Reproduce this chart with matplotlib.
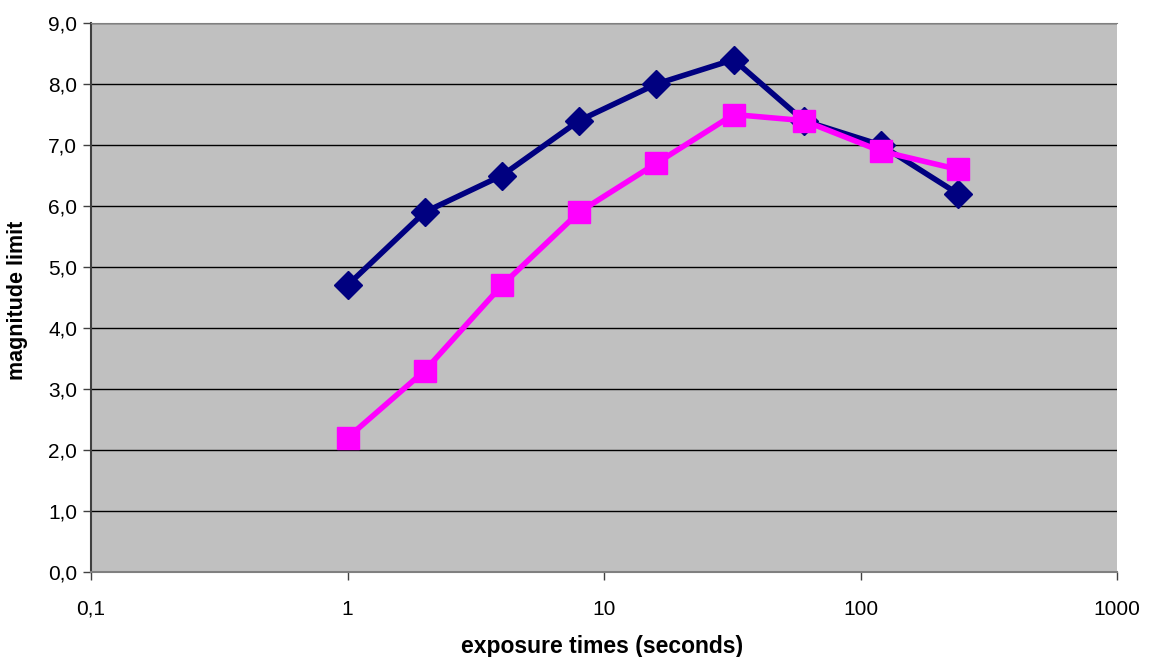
import matplotlib
matplotlib.use("Agg")
import matplotlib.pyplot as plt
from matplotlib.ticker import FixedLocator, FuncFormatter, NullLocator

plt.rcParams['font.family'] = ['Liberation Sans', 'DejaVu Sans']

exposure = [1, 2, 4, 8, 16, 32, 60, 120, 240]
series_a = [4.7, 5.9, 6.5, 7.4, 8.0, 8.4, 7.4, 7.0, 6.2]
series_b = [2.2, 3.3, 4.7, 5.9, 6.7, 7.5, 7.4, 6.9, 6.6]
y_ticks = [0, 1, 2, 3, 4, 5, 6, 7, 8, 9]
x_ticks = [0.1, 1, 10, 100, 1000]
x_tick_labels = ['0,1', '1', '10', '100', '1000']

fig = plt.figure(figsize=(11.5, 6.57), dpi=100)
ax = fig.add_axes([91/1150, (657-572)/657, (1117-91)/1150, (572-23)/657])
ax.set_facecolor('#C0C0C0')

ax.plot(exposure, series_a, color='#000080', lw=4, marker='D', ms=14,
        mfc='#000080', mec='#000080', zorder=3)
ax.plot(exposure, series_b, color='#FF00FF', lw=4, marker='s', ms=16.5,
        mfc='#FF00FF', mec='#FF00FF', zorder=4)

ax.set_xscale('log')
ax.set_xlim(0.1, 1000)
ax.set_ylim(0, 9)
ax.xaxis.set_major_locator(FixedLocator(x_ticks))
ax.xaxis.set_minor_locator(NullLocator())
ax.set_xticks(x_ticks)
ax.set_xticklabels(x_tick_labels)
ax.set_yticks(y_ticks)
ax.yaxis.set_major_formatter(FuncFormatter(lambda v, p: f"{v:.1f}".replace('.', ',')))

ax.yaxis.grid(True, color='black', lw=1.0)
ax.set_axisbelow(True)
ax.spines['right'].set_visible(False)
ax.spines['top'].set_color('#808080')
ax.spines['left'].set_color('#404040')
ax.spines['bottom'].set_color('#808080')
ax.spines['left'].set_linewidth(1.5)
ax.spines['bottom'].set_linewidth(1.5)
ax.tick_params(axis='both', direction='out', length=6, width=1, colors='#404040',
               labelcolor='black', labelsize=15)
ax.tick_params(axis='x', pad=14)
ax.tick_params(axis='y', pad=4)

fig.text(18/1150, 1 - 300/657, 'magnitude limit', rotation=90, ha='center', va='center',
         fontsize=15.5, fontweight='bold')
fig.text(602/1150, 1 - 646/657, 'exposure times (seconds)', ha='center', va='center',
         fontsize=16.5, fontweight='bold')

fig.savefig('out.png', dpi=100)
